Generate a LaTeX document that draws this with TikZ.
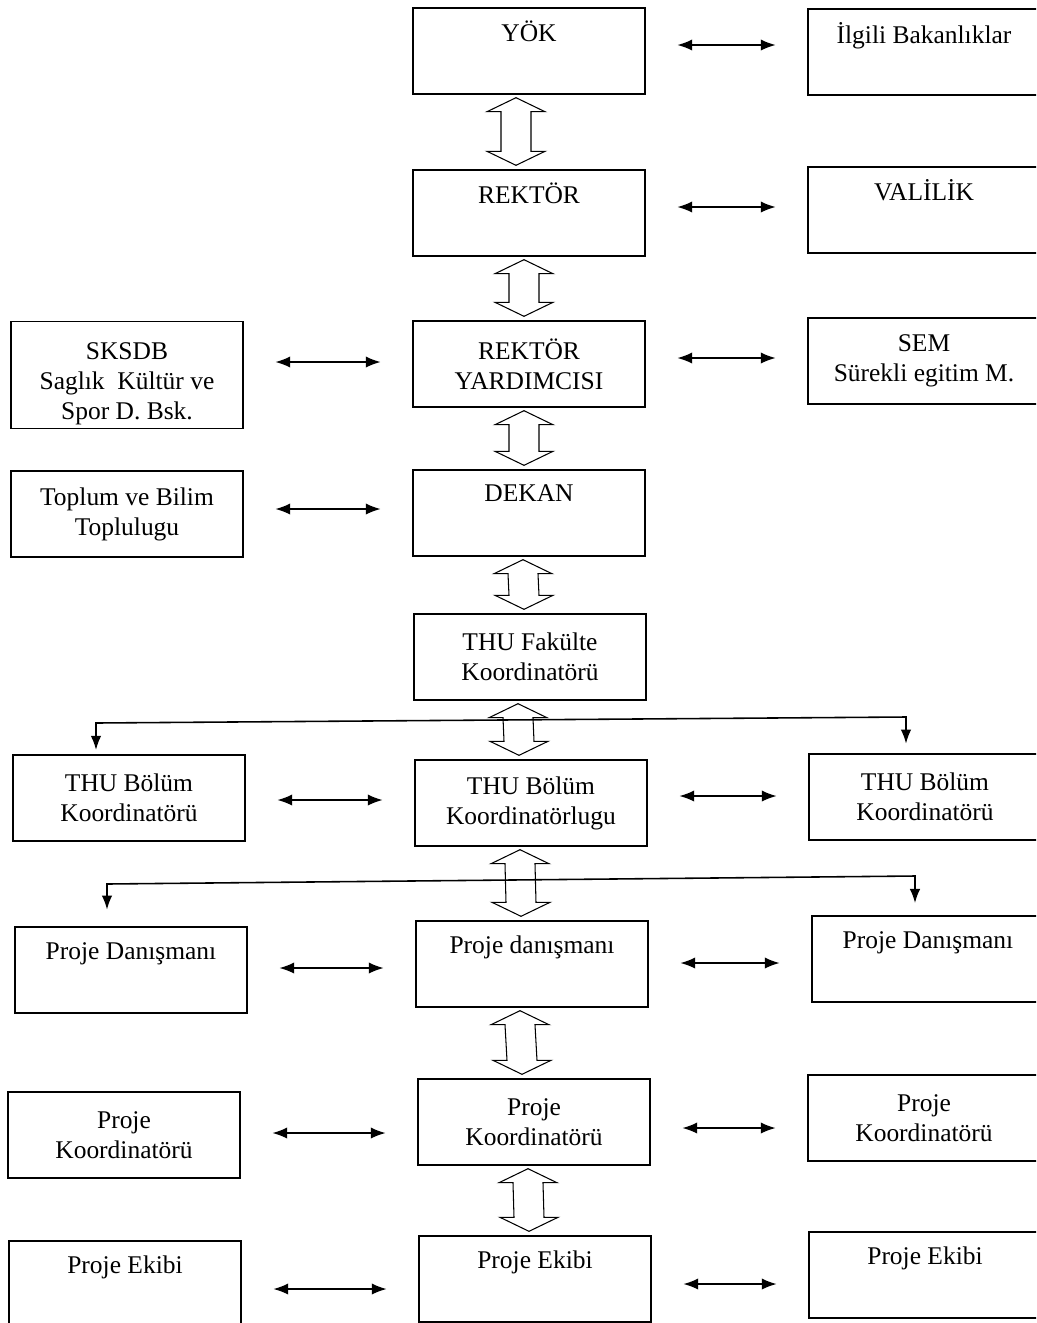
\documentclass[tikz,border=0pt]{standalone}
\usepackage{fontspec}
\setmainfont{Liberation Serif}
\usetikzlibrary{arrows.meta,calc}

\tikzset{
  box/.style={draw, line width=0.8pt, minimum width=4.64cm, minimum height=1.72cm,
    align=center, inner sep=2pt, font=\fontsize{14.5}{17}\selectfont},
  link/.style={line width=1pt, {Latex[length=8.5pt,width=6.5pt]}-{Latex[length=8.5pt,width=6.5pt]},
    shorten <=18pt, shorten >=18pt},
  branch/.style={line width=0.9pt, {Latex[length=8pt,width=6pt]}-{Latex[length=8pt,width=6pt]}},
  hollow/.style={draw, fill=white, line width=0.6pt, line join=miter}
}

% hollow double arrow between two boxes of the middle column
\newcommand{\hollowlink}[3]{%
  \coordinate (ht) at ($(#1.south)+(#3,3)$);
  \coordinate (hb) at ($(#2.north)+(#3,-4)$);
  \draw[hollow] (ht) -- ++(29,14) -- ++(-14,0) -- ($(hb)+(15,-14)$) -- ++(14,0)
    -- (hb) -- ++(-29,-14) -- ++(14,0) -- ($(ht)+(-15,14)$) -- ++(-14,0) -- cycle;}

\begin{document}
\begin{tikzpicture}[x=0.02cm, y=-0.02cm]
\useasboundingbox (0,0) rectangle (1036,1323);
\fill[white] (0,0) rectangle (1036,1323);
\clip (0,0) rectangle (1036,1323);

% middle column
\node[box] (yok) at (529,51)  {YÖK\\[6pt]~};
\node[box] (rek) at (529,213) {REKTÖR\\[6pt]~};
\node[box] (ry)  at (529,364) {REKTÖR\\YARDIMCISI};
\node[box] (dek) at (529,513) {DEKAN\\[6pt]~};
\node[box] (fak) at (530,657) {THU Fakülte\\Koordinatörü};
\node[box] (bol) at (531,803) {THU Bölüm\\Koordinatörlugu};
\node[box] (pdc) at (532,964) {Proje danışmanı\\[5pt]~};
\node[box] (pkc) at (534,1122) {Proje\\Koordinatörü};
\node[box] (pec) at (535,1279) {Proje Ekibi\\[5pt]~};

% left column
\node[box, minimum height=2.06cm] (sks) at (127,375) {\rule{0pt}{20pt}SKSDB\\Saglık\ \ Kültür ve\\Spor D. Bsk.};
\node[box] (top) at (127,514) {Toplum ve Bilim\\Toplulugu};
\node[box] (bll) at (129,798) {THU Bölüm\\Koordinatörü};
\node[box] (pdl) at (131,970) {Proje Danışmanı\\[5pt]~};
\node[box] (pkl) at (124,1135) {Proje\\Koordinatörü};
\node[box] (pel) at (125,1284) {Proje Ekibi\\[5pt]~};

% right column
\node[box] (ilg) at (924,52)  {İlgili Bakanlıklar\\[5pt]~};
\node[box] (val) at (924,210) {VALİLİK\\[6pt]~};
\node[box] (sem) at (924,361) {SEM\\Sürekli egitim M.};
\node[box] (blr) at (925,797) {THU Bölüm\\Koordinatörü};
\node[box] (pdr) at (928,959) {Proje Danışmanı\\[5pt]~};
\node[box] (pkr) at (924,1118) {Proje\\Koordinatörü};
\node[box] (per) at (925,1275) {Proje Ekibi\\[5pt]~};

% vertical hollow arrows
\foreach \a/\b/\s in {yok/rek/-13, rek/ry/-5, ry/dek/-5, dek/fak/-6,
    fak/bol/-12, bol/pdc/-11, pdc/pkc/-12, pkc/pec/-6}
  \hollowlink{\a}{\b}{\s};

% horizontal links (kept level, at the height given by the last offset)
\foreach \a/\b/\m/\d in {yok/ilg/yok/-6, rek/val/rek/-6, sks/ry/ry/-2, ry/sem/ry/-6,
    top/dek/dek/-4, bll/bol/bol/-3, bol/blr/bol/-7, pdl/pdc/pdc/4, pdc/pdr/pdc/-1,
    pkl/pkc/pkc/11, pkc/pkr/pkc/6, pel/pec/pec/10, pec/per/pec/5}
  \draw[link] ($(\a.east |- \m)+(0,\d)$) -- ($(\b.west |- \m)+(0,\d)$);

% branching lines
\coordinate (s1l) at (96,723);
\coordinate (s1r) at (906,717);
\draw[branch, shorten <=2.5pt, shorten >=5.5pt] (s1l |- bll.north) -- (s1l) -- (s1r) -- (s1r |- blr.north);
\coordinate (s2l) at (107,884);
\coordinate (s2r) at (915,876);
\draw[branch, shorten <=9.5pt, shorten >=7pt] (s2l |- pdl.north) -- (s2l) -- (s2r) -- (s2r |- pdr.north);
\end{tikzpicture}
\end{document}
